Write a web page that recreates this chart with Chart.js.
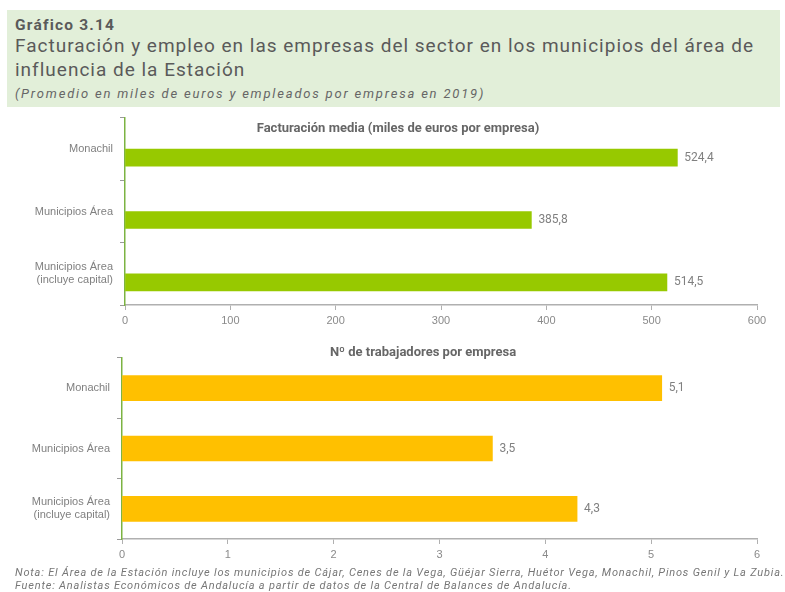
<!DOCTYPE html>
<html>
<head>
<meta charset="utf-8">
<script src="https://cdn.jsdelivr.net/npm/chart.js@4/dist/chart.umd.min.js"></script>
<style>
  body { margin: 0; background: #fff; font-family: Roboto, "Liberation Sans", sans-serif; }
  #wrap { position: relative; width: 785px; height: 592px; overflow: hidden; }
  #cabecera { position: absolute; left: 7px; top: 10px; width: 773px; height: 97px; background: #e2efd9; color: #5a5a5a; }
  #cabecera .num { position: absolute; left: 8px; top: 6px; font-size: 15.5px; font-weight: bold; letter-spacing: 1.2px; }
  #cabecera .tit { position: absolute; left: 8px; top: 24px; font-size: 19px; line-height: 24px; letter-spacing: 1px; white-space: nowrap; }
  #cabecera .sub { position: absolute; left: 8px; top: 76px; font-size: 13px; font-style: italic; letter-spacing: 1.8px; color: #666; }
  .caja { position: absolute; left: 0; width: 785px; }
  #pie { position: absolute; left: 15px; top: 566px; font-size: 11px; font-style: italic; color: #777; line-height: 13px; letter-spacing: 0.8px; white-space: nowrap; }
</style>
</head>
<body>
<div id="wrap">
  <div id="cabecera">
    <div class="num">Gráfico 3.14</div>
    <div class="tit">Facturación y empleo en las empresas del sector en los municipios del área de<br>influencia de la Estación</div>
    <div class="sub">(Promedio en miles de euros y empleados por empresa en 2019)</div>
  </div>
  <div class="caja" style="top:112px;height:228px"><canvas id="chart-facturacion"></canvas></div>
  <div class="caja" style="top:340px;height:228px"><canvas id="chart-trabajadores"></canvas></div>
  <div id="pie">Nota: El Área de la Estación incluye los municipios de Cájar, Cenes de la Vega, Güéjar Sierra, Huétor Vega, Monachil, Pinos Genil y La Zubia.<br>Fuente: Analistas Económicos de Andalucía a partir de datos de la Central de Balances de Andalucía.</div>
</div>

<script>
// Datos
const municipios = ['Monachil', 'Municipios Área', ['Municipios Área', '(incluye capital)']];
const facturacion = [524.4, 385.8, 514.5];
const trabajadores = [5.1, 3.5, 4.3];
const ticksFacturacion = [0, 100, 200, 300, 400, 500, 600];
const ticksTrabajadores = [0, 1, 2, 3, 4, 5, 6];

// Etiquetas de valor al final de cada barra y título dentro del área
const etiquetasPlugin = {
    id: 'etiquetas',
    afterDatasetsDraw(chart, args, opts) {
        const ctx = chart.ctx;
        const idx = chart.data.datasets.length - 1;  // la serie visible es la última
        ctx.save();
        ctx.font = '12px Roboto, "Liberation Sans", sans-serif';
        ctx.fillStyle = '#808080';
        ctx.textBaseline = 'middle';
        ctx.textAlign = 'left';
        chart.getDatasetMeta(idx).data.forEach((bar, i) => {
            const v = chart.data.datasets[idx].data[i];
            ctx.fillText(v.toFixed(1).replace('.', ','), bar.x + 7, bar.y);
        });
        ctx.font = 'bold 13px Roboto, "Liberation Sans", sans-serif';
        ctx.fillStyle = '#666';
        ctx.textAlign = 'center';
        ctx.fillText(opts.texto, opts.x, chart.chartArea.top + opts.dy);
        ctx.restore();
    }
};

function crearGrafico(id, valores, color, ticks, anchoY, altoX, padTop, titulo, tituloX, tituloDy, barra, desplazada) {
    const ctx = document.getElementById(id).getContext('2d');
    const series = [{ data: valores, backgroundColor: color, barThickness: barra }];
    // en el primer gráfico las barras quedan algo por debajo del centro de cada categoría
    if (desplazada) series.unshift({ data: valores.map(() => null), barThickness: barra });
    return new Chart(ctx, {
        type: 'bar',
        data: {
            labels: municipios,
            datasets: series
        },
        options: {
            indexAxis: 'y',
            responsive: true,
            maintainAspectRatio: false,
            animation: false,
            layout: { padding: { top: padTop, right: 28, left: 0, bottom: 0 } },
            plugins: {
                legend: { display: false },
                tooltip: { enabled: false },
                etiquetas: { texto: titulo, x: tituloX, dy: tituloDy }
            },
            scales: {
                x: {
                    min: ticks[0],
                    max: ticks[ticks.length - 1],
                    afterBuildTicks: s => { s.ticks = ticks.map(v => ({ value: v })); },
                    afterFit: s => { s.height = altoX; },
                    border: { color: '#b0b0b0', width: 1.5 },
                    grid: { drawOnChartArea: false, tickLength: 5, color: '#b0b0b0' },
                    ticks: { color: '#8a8a8a', font: { size: 11 }, padding: 4 }
                },
                y: {
                    afterFit: s => { s.width = anchoY; s.paddingTop = 0; s.paddingBottom = 0; },
                    border: { color: '#7cb342', width: 1.5 },
                    grid: { drawOnChartArea: false, tickLength: 5, color: '#9a9a9a', offset: true },
                    ticks: { color: '#808080', font: { size: 11 }, padding: 7 }
                }
            }
        },
        plugins: [etiquetasPlugin]
    });
}

crearGrafico('chart-facturacion', facturacion, '#97c900', ticksFacturacion, 125, 35, 6,
    'Facturación media (miles de euros por empresa)', 398, 11, 17, true);
crearGrafico('chart-trabajadores', trabajadores, '#ffc000', ticksTrabajadores, 122, 29, 18,
    'Nº de trabajadores por empresa', 423, -5, 25, false);
</script>
</body>
</html>
